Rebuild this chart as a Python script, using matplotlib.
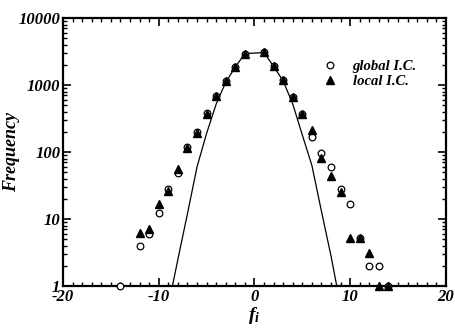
import matplotlib
matplotlib.use('Agg')
import matplotlib.pyplot as plt
from matplotlib.ticker import FixedLocator, MultipleLocator, LogLocator, NullFormatter

plt.rcParams['font.family'] = 'Liberation Serif'
plt.rcParams['axes.unicode_minus'] = False
plt.rcParams['mathtext.fontset'] = 'custom'
plt.rcParams['mathtext.it'] = 'Liberation Serif:italic:bold'
plt.rcParams['mathtext.rm'] = 'Liberation Serif:italic:bold'

# global initial conditions (open circles)
x_global = [-14, -12, -11, -10, -9, -8, -7, -6, -5, -4, -3, -2, -1,
            1, 2, 3, 4, 5, 6, 7, 8, 9, 10, 11, 12, 13, 14]
y_global = [1, 4.0, 6.0, 12.2, 28, 48, 120, 200, 380, 680, 1160, 1880, 2900,
            3100, 1940, 1190, 660, 370, 170, 97, 59, 28, 17, 5.2, 2.0, 2.0, 1]

# local initial conditions (filled triangles)
x_local = [-12, -11, -10, -9, -8, -7, -6, -5, -4, -3, -2, -1,
           1, 2, 3, 4, 5, 6, 7, 8, 9, 10, 11, 12, 13, 14]
y_local = [6.2, 7.2, 16.5, 26, 56, 115, 195, 375, 680, 1160, 1880, 2900,
           3100, 1940, 1190, 660, 370, 213, 82, 44, 25, 5.2, 5.2, 3.1, 1, 1]

# reference curve
x_curve = [-9, -8, -7, -6, -5, -4, -3, -2, -1, 1, 2, 3, 4, 5, 6, 7, 8, 9]
y_curve = [0.5, 2.5, 12, 60, 190, 520, 1100, 1860, 2950,
           3050, 1900, 1150, 520, 180, 63, 13, 2.8, 0.5]

fig = plt.figure(figsize=(4.55, 3.28), dpi=100)
ax = fig.add_axes([0.1385, 0.128, 0.8415, 0.817])

ax.plot(x_curve, y_curve, color='black', lw=0.9, zorder=2)
ax.plot(x_global, y_global, 'o', ms=4.8, mfc='white', mec='black', mew=0.9,
        label='global I.C.', zorder=3, clip_on=False)
ax.plot(x_local, y_local, '^', ms=5.2, color='black',
        label='local I.C.', zorder=4, clip_on=False)

ax.set_yscale('log')
ax.set_xlim(-20, 20)
ax.set_ylim(1, 10000)

ax.xaxis.set_major_locator(FixedLocator([-20, -10, 0, 10, 20]))
ax.xaxis.set_minor_locator(MultipleLocator(1))
ax.yaxis.set_major_locator(FixedLocator([1, 10, 100, 1000, 10000]))
ax.yaxis.set_minor_locator(LogLocator(base=10, subs=range(2, 10)))
ax.yaxis.set_minor_formatter(NullFormatter())
ax.set_yticklabels(['1', '10', '100', '1000', '10000'])
ax.set_xticklabels(['-20', '-10', '0', '10', '20'])

for s in ax.spines.values():
    s.set_linewidth(1.6)
ax.tick_params(which='both', direction='in', top=True, right=True)
ax.tick_params(which='major', length=6, width=1.2, pad=2, labelsize=12)
ax.tick_params(which='minor', length=3, width=1.0)
for lab in ax.get_xticklabels() + ax.get_yticklabels():
    lab.set_fontweight('bold')
    lab.set_fontstyle('italic')

ax.set_xlabel('$f_i$', fontsize=14)
ax.xaxis.set_label_coords(0.5, -0.07)
ax.set_ylabel('Frequency', fontsize=13, fontweight='bold', fontstyle='italic')
ax.yaxis.set_label_coords(-0.112, 0.5)

leg = ax.legend(loc='upper left', bbox_to_anchor=(0.663, 0.865), frameon=False,
                handletextpad=1.05, labelspacing=0.1, handlelength=1.0,
                borderaxespad=0,
                prop={'family': 'Liberation Serif', 'weight': 'bold',
                      'style': 'italic', 'size': 10.5})

fig.savefig('out.png', dpi=100)
